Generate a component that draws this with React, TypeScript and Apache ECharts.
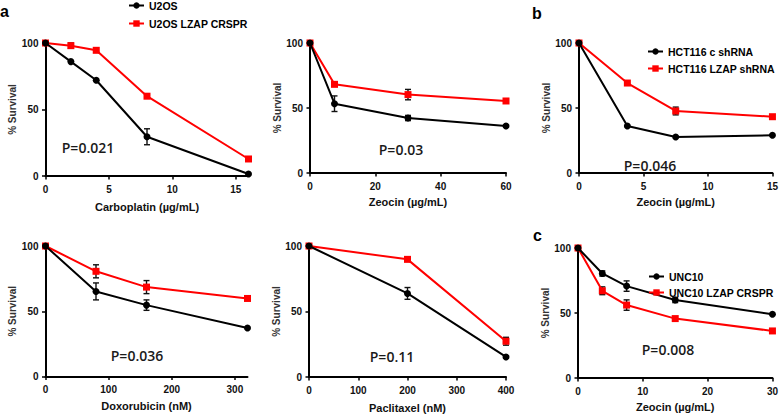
import React, { useEffect, useRef } from "react";
import * as echarts from "echarts";

// ---------- data ----------
const carboDose = [0, 2, 4, 8, 16];
const carboU2OS = [100, 86, 72, 29.5, 1.5];
const carboU2OSErr = [0, 0, 0, 6, 0];
const carboLZAP = [100, 98, 94.5, 60, 12.8];
const carboLZAPErr = [0, 2, 0, 0, 0];

const zeoDoseA = [0, 7.5, 30, 60];
const zeoU2OS = [100, 53.3, 42.3, 36.2];
const zeoU2OSErr = [0, 6, 2, 0];
const zeoLZAP = [100, 68.2, 60.3, 55.4];
const zeoLZAPErr = [0, 0, 4, 0];

const hctDose = [0, 3.75, 7.5, 15];
const hctCtrl = [100, 36.2, 27.7, 29];
const hctCtrlErr = [0, 0, 0, 0];
const hctLZAP = [100, 69.2, 47.7, 43.3];
const hctLZAPErr = [0, 0, 3, 0];

const doxoDose = [0, 80, 160, 320];
const doxoU2OS = [100, 65.2, 54.7, 37.1];
const doxoU2OSErr = [0, 6.5, 4, 0];
const doxoLZAP = [100, 80.6, 68.5, 59.8];
const doxoLZAPErr = [0, 5, 5, 0];

const pacliDose = [0, 200, 400];
const pacliU2OS = [100, 63.8, 15.3];
const pacliU2OSErr = [0, 4.5, 0];
const pacliLZAP = [100, 89.8, 27.3];
const pacliLZAPErr = [0, 0, 3];

const uncDose = [0, 3.75, 7.5, 15, 30];
const uncCtrl = [100, 80.4, 70.7, 60, 49];
const uncCtrlErr = [0, 2, 4, 2, 0];
const uncLZAP = [100, 67.1, 56.1, 45.7, 36.2];
const uncLZAPErr = [0, 3, 4, 0, 0];

const yTicks = [0, 50, 100];
const carboTicks = [0, 5, 10, 15];
const zeoTicksA = [0, 20, 40, 60];
const hctTicks = [0, 5, 10, 15];
const doxoTicks = [0, 100, 200, 300];
const pacliTicks = [0, 100, 200, 300, 400];
const uncTicks = [0, 10, 20, 30];

const pValues = ["P=0.021", "P=0.03", "P=0.046", "P=0.036", "P=0.11", "P=0.008"];
const panelLetters = ["a", "b", "c"];

const FONT = "'Liberation Sans', Arial, sans-serif";

export default function App() {
  const ref = useRef<HTMLDivElement>(null);

  useEffect(() => {
    if (!ref.current) return;
    const chart = echarts.init(ref.current, undefined, { renderer: "svg" });

    const panels = [
      { grid: { left: 45.5, top: 43, width: 203, height: 133 }, max: 16, ticks: carboTicks, xName: "Carboplatin (\u00b5g/mL)", gap: 25,
        dose: carboDose, black: carboU2OS, blackErr: carboU2OSErr, red: carboLZAP, redErr: carboLZAPErr,
        bName: "U2OS", rName: "U2OS LZAP CRSPR", p: pValues[0], px: 88, py: 147 },
      { grid: { left: 310, top: 43, width: 196, height: 130 }, max: 60, ticks: zeoTicksA, xName: "Zeocin (\u00b5g/mL)", gap: 23,
        dose: zeoDoseA, black: zeoU2OS, blackErr: zeoU2OSErr, red: zeoLZAP, redErr: zeoLZAPErr,
        bName: "U2OS", rName: "U2OS LZAP CRSPR", p: pValues[1], px: 401, py: 149 },
      { grid: { left: 579, top: 43, width: 195, height: 130 }, max: 15, ticks: hctTicks, xName: "Zeocin (\u00b5g/mL)", gap: 23,
        dose: hctDose, black: hctCtrl, blackErr: hctCtrlErr, red: hctLZAP, redErr: hctLZAPErr,
        bName: "HCT116 c shRNA", rName: "HCT116 LZAP shRNA", p: pValues[2], px: 650, py: 165 },
      { grid: { left: 45.5, top: 246, width: 202, height: 130.5 }, max: 320, ticks: doxoTicks, xName: "Doxorubicin (nM)", gap: 24,
        dose: doxoDose, black: doxoU2OS, blackErr: doxoU2OSErr, red: doxoLZAP, redErr: doxoLZAPErr,
        bName: "U2OS", rName: "U2OS LZAP CRSPR", p: pValues[3], px: 137, py: 355 },
      { grid: { left: 309, top: 246, width: 197, height: 131 }, max: 400, ticks: pacliTicks, xName: "Paclitaxel (nM)", gap: 25,
        dose: pacliDose, black: pacliU2OS, blackErr: pacliU2OSErr, red: pacliLZAP, redErr: pacliLZAPErr,
        bName: "U2OS", rName: "U2OS LZAP CRSPR", p: pValues[4], px: 392, py: 356 },
      { grid: { left: 578, top: 248, width: 195, height: 130 }, max: 30, ticks: uncTicks, xName: "Zeocin (\u00b5g/mL)", gap: 23,
        dose: uncDose, black: uncCtrl, blackErr: uncCtrlErr, red: uncLZAP, redErr: uncLZAPErr,
        bName: "UNC10", rName: "UNC10 LZAP CRSPR", p: pValues[5], px: 668, py: 349 },
    ];

    const renderErr = (params: any, api: any) => {
      const x = api.value(0);
      const y = api.value(1);
      const e = api.value(2);
      if (!e) return { type: "group", children: [] };
      const top = api.coord([x, y + e]);
      const bot = api.coord([x, y - e]);
      const w = 3;
      const st = { stroke: "#111", lineWidth: 1.4 };
      return {
        type: "group",
        children: [
          { type: "line", shape: { x1: top[0], y1: top[1], x2: bot[0], y2: bot[1] }, style: st },
          { type: "line", shape: { x1: top[0] - w, y1: top[1], x2: top[0] + w, y2: top[1] }, style: st },
          { type: "line", shape: { x1: bot[0] - w, y1: bot[1], x2: bot[0] + w, y2: bot[1] }, style: st },
        ],
      };
    };

    const axisLabelStyle = { fontSize: 10, fontWeight: "bold", color: "#111", fontFamily: FONT };

    const grids: any[] = [];
    const xAxes: any[] = [];
    const yAxes: any[] = [];
    const series: any[] = [];

    panels.forEach((pn, i) => {
      grids.push({ ...pn.grid, containLabel: false });
      xAxes.push({
        type: "value", gridIndex: i, min: 0, max: pn.max,
        name: pn.xName, nameLocation: "middle", nameGap: pn.gap,
        nameTextStyle: { fontSize: 11, fontWeight: "bold", color: "#111", fontFamily: FONT },
        splitLine: { show: false },
        axisLine: { show: true, lineStyle: { color: "#000", width: 2 } },
        axisTick: { show: true, length: 3.5, lineStyle: { color: "#000", width: 1.5 }, customValues: pn.ticks },
        axisLabel: { ...axisLabelStyle, margin: 8, customValues: pn.ticks },
      });
      yAxes.push({
        type: "value", gridIndex: i, min: 0, max: 100,
        name: "% Survival", nameLocation: "middle", nameGap: 28,
        nameTextStyle: { fontSize: 10, fontWeight: "bold", color: "#333", fontFamily: FONT },
        splitLine: { show: false },
        axisLine: { show: true, lineStyle: { color: "#000", width: 2 } },
        axisTick: { show: true, length: 3.5, lineStyle: { color: "#000", width: 1.5 }, customValues: yTicks },
        axisLabel: { ...axisLabelStyle, margin: 7, customValues: yTicks },
      });
      series.push({
        type: "custom", xAxisIndex: i, yAxisIndex: i, renderItem: renderErr, z: 1,
        data: pn.dose.map((d, k) => [d, pn.red[k], pn.redErr[k]]),
        encode: { x: 0, y: 1 }, silent: true,
      });
      series.push({
        type: "custom", xAxisIndex: i, yAxisIndex: i, renderItem: renderErr, z: 1,
        data: pn.dose.map((d, k) => [d, pn.black[k], pn.blackErr[k]]),
        encode: { x: 0, y: 1 }, silent: true,
      });
      series.push({
        type: "line", name: pn.rName, xAxisIndex: i, yAxisIndex: i, z: 2,
        data: pn.dose.map((d, k) => [d, pn.red[k]]),
        symbol: "rect", symbolSize: 7,
        lineStyle: { color: "#ff0000", width: 2 },
        itemStyle: { color: "#ff0000" },
      });
      series.push({
        type: "line", name: pn.bName, xAxisIndex: i, yAxisIndex: i, z: 3,
        data: pn.dose.map((d, k) => [d, pn.black[k]]),
        symbol: "circle", symbolSize: 7,
        lineStyle: { color: "#000", width: 2 },
        itemStyle: { color: "#000" },
      });
    });

    const legendText = { fontSize: 10.5, fontWeight: "bold", color: "#000", fontFamily: FONT };
    const legends = [
      { left: 128, top: 0, itemGap: 7, data: ["U2OS", "U2OS LZAP CRSPR"] },
      { left: 647, top: 46, itemGap: 6, data: ["HCT116 c shRNA", "HCT116 LZAP shRNA"] },
      { left: 648, top: 271, itemGap: 5, data: ["UNC10", "UNC10 LZAP CRSPR"] },
    ].map((l) => ({
      ...l, orient: "vertical", itemWidth: 15, itemHeight: 8, itemGap: l.itemGap,
      textStyle: legendText, selectedMode: false, padding: 0,
    }));

    const letterPos = [
      { x: 0, y: 3 },
      { x: 532, y: 5 },
      { x: 533, y: 227 },
    ];
    const graphics: any[] = [];
    panelLetters.forEach((t, i) => {
      graphics.push({
        type: "text", left: letterPos[i].x, top: letterPos[i].y,
        style: { text: t, fontSize: 16, fontWeight: "bold", fill: "#000", fontFamily: FONT },
      });
    });
    panels.forEach((pn) => {
      graphics.push({
        type: "text", x: pn.px, y: pn.py,
        style: { text: pn.p, fontSize: 14, fontWeight: 600, fill: "#1a1a1a", fontFamily: "'Open Sans', " + FONT, align: "center", verticalAlign: "middle" },
      });
    });

    chart.setOption({
      animation: false,
      backgroundColor: "#ffffff",
      grid: grids,
      xAxis: xAxes,
      yAxis: yAxes,
      legend: legends,
      series,
      graphic: graphics,
    });

    return () => chart.dispose();
  }, []);

  return <div ref={ref} style={{ position: "absolute", left: 0, top: 0, width: 781, height: 417 }} />;
}
